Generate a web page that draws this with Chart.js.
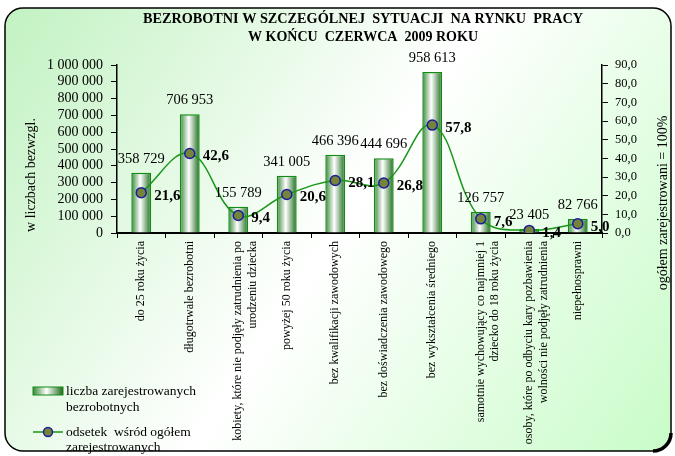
<!DOCTYPE html>
<html><head><meta charset="utf-8">
<script src="https://cdn.jsdelivr.net/npm/chart.js@4/dist/chart.umd.min.js"></script>
<style>html,body{margin:0;padding:0;background:#fff;}canvas{display:block;}</style>
</head><body>
<canvas id="c" width="675" height="456"></canvas>
<script>
const categories = [
  'do 25 roku życia',
  'długotrwale bezrobotni',
  ['kobiety, które nie podjęły zatrudnienia po', 'urodzeniu dziecka'],
  'powyżej 50 roku życia',
  'bez kwalifikacji zawodowych',
  'bez doświadczenia zawodowego',
  'bez wykształcenia średniego',
  ['samotnie wychowujący co najmniej 1', 'dziecko do 18 roku życia'],
  ['osoby, które po odbyciu kary pozbawienia', 'wolności nie podjęły zatrudnienia'],
  'niepełnosprawni'
];
const unemployedCount = [358729, 706953, 155789, 341005, 466396, 444696, 958613, 126757, 23405, 82766];
const sharePercent = [21.6, 42.6, 9.4, 20.6, 28.1, 26.8, 57.8, 7.6, 1.4, 5.0];
const titleLines = ['BEZROBOTNI W SZCZEGÓLNEJ  SYTUACJI  NA RYNKU  PRACY', 'W KOŃCU  CZERWCA  2009 ROKU'];
const leftAxisTitle = 'w liczbach bezwzgl.';
const rightAxisTitle = 'ogółem zarejestrowani = 100%';
const barSeriesLabel = ['liczba zarejestrowanych', 'bezrobotnych'];
const lineSeriesLabel = ['odsetek  wśród ogółem', 'zarejestrowanych'];

const SERIF = "'Liberation Serif', 'Times New Roman', serif";
const fmtInt = v => String(Math.round(v)).replace(/\B(?=(\d{3})+(?!\d))/g, ' ');
const fmtPct = v => Number(v).toFixed(1).replace('.', ',');
const BAR_PCT = 0.41;

function barGradient(ctx, x0, x1) {
  const g = ctx.createLinearGradient(x0, 0, x1, 0);
  g.addColorStop(0, '#3a873a');
  g.addColorStop(0.45, '#ffffff');
  g.addColorStop(1, '#1d6b1d');
  return g;
}

function roundRectPath(ctx, x, y, w, h, r) {
  ctx.beginPath();
  ctx.moveTo(x + r, y);
  ctx.lineTo(x + w - r, y);
  ctx.arcTo(x + w, y, x + w, y + r, r);
  ctx.lineTo(x + w, y + h - r);
  ctx.arcTo(x + w, y + h, x + w - r, y + h, r);
  ctx.lineTo(x + r, y + h);
  ctx.arcTo(x, y + h, x, y + h - r, r);
  ctx.lineTo(x, y + r);
  ctx.arcTo(x, y, x + r, y, r);
  ctx.closePath();
}

function fitText(ctx, text, cx, cy, maxW) {
  const w = ctx.measureText(text).width;
  ctx.save();
  ctx.translate(cx, cy);
  if (w > maxW) ctx.scale(maxW / w, 1);
  ctx.textAlign = 'center';
  ctx.textBaseline = 'middle';
  ctx.fillText(text, 0, 0);
  ctx.restore();
}

const decor = {
  id: 'decor',
  beforeDraw(chart) {
    const ctx = chart.ctx;
    ctx.save();
    ctx.fillStyle = '#ffffff';
    ctx.fillRect(0, 0, chart.width, chart.height);
    const g = ctx.createLinearGradient(5, 8, 672, 452);
    g.addColorStop(0, '#c2f2c2');
    g.addColorStop(0.5, '#ffffff');
    g.addColorStop(1, '#c8fcc8');
    roundRectPath(ctx, 5, 8, 666, 443, 18);
    ctx.fillStyle = g;
    ctx.fill();
    ctx.restore();
  },
  afterDatasetsDraw(chart) {
    const ctx = chart.ctx;
    ctx.save();
    ctx.fillStyle = '#000';
    const barMeta = chart.getDatasetMeta(1);
    ctx.font = '14.5px ' + SERIF;
    ctx.textAlign = 'center';
    ctx.textBaseline = 'alphabetic';
    barMeta.data.forEach((el, i) => {
      ctx.fillText(fmtInt(unemployedCount[i]), el.x, el.y - 10);
    });
    const lineMeta = chart.getDatasetMeta(0);
    ctx.font = 'bold 15px ' + SERIF;
    ctx.textAlign = 'left';
    ctx.textBaseline = 'middle';
    lineMeta.data.forEach((el, i) => {
      ctx.fillText(fmtPct(sharePercent[i]), el.x + 13, el.y + 3);
    });
    ctx.restore();
  },
  afterDraw(chart) {
    const ctx = chart.ctx;
    ctx.save();
    roundRectPath(ctx, 5, 8, 666, 443, 18);
    ctx.strokeStyle = '#000';
    ctx.lineWidth = 1.5;
    ctx.stroke();
    ctx.beginPath();
    ctx.arc(653, 433, 18, 0, Math.PI / 2);
    ctx.lineWidth = 3.5;
    ctx.stroke();
    ctx.fillStyle = '#000';
    ctx.font = 'bold 15px ' + SERIF;
    fitText(ctx, titleLines[0], 363, 19, 440);
    fitText(ctx, titleLines[1], 363, 37, 230);
    ctx.font = '14px ' + SERIF;
    ctx.textAlign = 'center';
    ctx.textBaseline = 'middle';
    ctx.save();
    ctx.translate(31, 175);
    ctx.rotate(-Math.PI / 2);
    ctx.fillText(leftAxisTitle, 0, 0);
    ctx.restore();
    ctx.save();
    ctx.translate(663, 203);
    ctx.rotate(-Math.PI / 2);
    ctx.fillText(rightAxisTitle, 0, 0);
    ctx.restore();
    const bar = chart.data.datasets[1];
    const line = chart.data.datasets[0];
    ctx.fillStyle = barGradient(ctx, 33, 63);
    ctx.fillRect(33, 387, 30, 8);
    ctx.strokeStyle = bar.borderColor;
    ctx.lineWidth = 1;
    ctx.strokeRect(33, 387, 30, 8);
    ctx.beginPath();
    ctx.moveTo(33, 432);
    ctx.lineTo(63, 432);
    ctx.strokeStyle = line.borderColor;
    ctx.lineWidth = 1.5;
    ctx.stroke();
    ctx.beginPath();
    ctx.arc(48, 432, 4.5, 0, Math.PI * 2);
    ctx.fillStyle = line.pointBackgroundColor;
    ctx.fill();
    ctx.strokeStyle = line.pointBorderColor;
    ctx.lineWidth = 1.5;
    ctx.stroke();
    ctx.fillStyle = '#000';
    ctx.font = '13.5px ' + SERIF;
    ctx.textAlign = 'left';
    ctx.textBaseline = 'middle';
    ctx.fillText(barSeriesLabel[0], 66, 391);
    ctx.fillText(barSeriesLabel[1], 66, 407);
    ctx.fillText(lineSeriesLabel[0], 66, 432);
    ctx.fillText(lineSeriesLabel[1], 66, 447);
    ctx.restore();
  }
};

new Chart(document.getElementById('c'), {
  type: 'bar',
  data: {
    labels: categories,
    datasets: [
      {
        type: 'line',
        label: lineSeriesLabel.join(' '),
        data: sharePercent,
        yAxisID: 'y1',
        borderColor: '#1a961a',
        borderWidth: 1.5,
        tension: 0.4,
        pointRadius: 5,
        pointBackgroundColor: '#74843a',
        pointBorderColor: '#1c1c9a',
        pointBorderWidth: 1.5,
        order: 0
      },
      {
        type: 'bar',
        label: barSeriesLabel.join(' '),
        data: unemployedCount,
        yAxisID: 'y',
        backgroundColor: (c) => {
          const xs = c.chart.scales.x;
          if (!xs || c.dataIndex === undefined || !isFinite(xs.width) || xs.width <= 0) return '#3a873a';
          const cx = xs.getPixelForValue(c.dataIndex);
          const w = (xs.width / categories.length) * BAR_PCT;
          return barGradient(c.chart.ctx, cx - w / 2, cx + w / 2);
        },
        borderColor: '#138a13',
        borderWidth: 1.5,
        barPercentage: BAR_PCT,
        categoryPercentage: 1,
        order: 1
      }
    ]
  },
  options: {
    responsive: false,
    animation: false,
    layout: { padding: { top: 65, left: 0, right: 0, bottom: 0 } },
    plugins: {
      legend: { display: false },
      title: { display: false },
      tooltip: { enabled: false }
    },
    scales: {
      x: {
        offset: true,
        grid: { display: true, drawOnChartArea: false, offset: true, tickLength: 5, color: '#000', lineWidth: 1 },
        border: { color: '#000', width: 2 },
        ticks: {
          minRotation: 90, maxRotation: 90, autoSkip: false, padding: 3,
          color: '#000', font: { family: SERIF, size: 12 }
        },
        afterFit: s => { s.height = 223; }
      },
      y: {
        position: 'left',
        min: 0, max: 1000000,
        grid: { drawOnChartArea: false, tickLength: 6, color: '#000', lineWidth: 1 },
        border: { color: '#000', width: 1.5 },
        ticks: {
          stepSize: 100000, autoSkip: false, padding: 8, color: '#000',
          font: { family: SERIF, size: 14 },
          callback: v => fmtInt(v)
        },
        afterFit: s => { s.width = 117; }
      },
      y1: {
        position: 'right',
        min: 0, max: 90,
        grid: { drawOnChartArea: false, tickLength: 6, color: '#000', lineWidth: 1 },
        border: { color: '#000', width: 1.5 },
        ticks: {
          stepSize: 10, autoSkip: false, padding: 7, color: '#000',
          font: { family: SERIF, size: 12.5 },
          callback: v => fmtPct(v)
        },
        afterFit: s => { s.width = 73; }
      }
    }
  },
  plugins: [decor]
});
</script>
</body></html>
